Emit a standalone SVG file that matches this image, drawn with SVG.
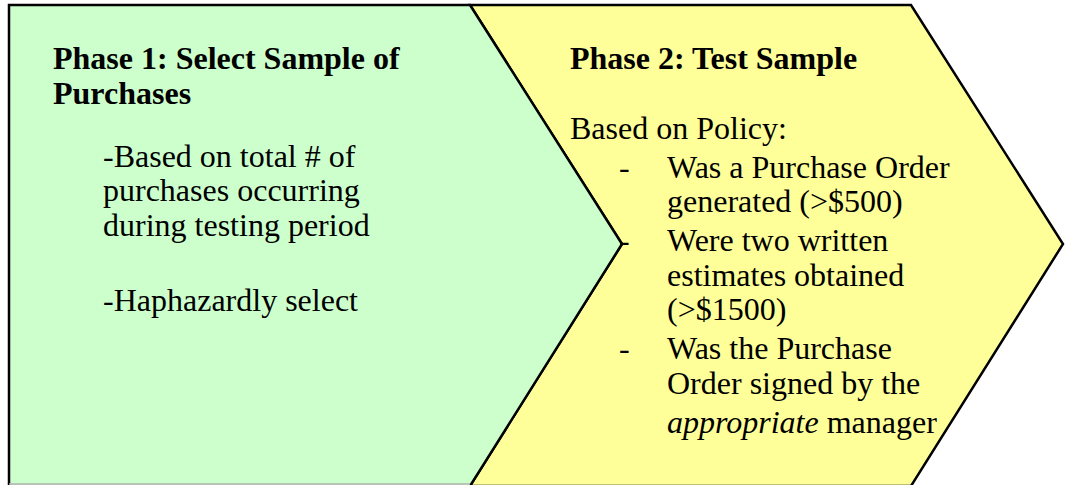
<svg xmlns="http://www.w3.org/2000/svg" width="1065" height="485" viewBox="0 0 1065 485">
  <style>
    .shape { stroke: #000; stroke-width: 2.5; stroke-linejoin: miter; }
    .title { font-family: "Liberation Serif", "Times New Roman", serif; font-size: 32px; font-weight: bold; fill: #000; }
    .body { font-family: "Liberation Serif", "Times New Roman", serif; font-size: 32px; fill: #000; }
  </style>
  <rect width="1065" height="485" fill="#fff"/>

  <!-- Phase 2 chevron (drawn first so phase 1 notch line sits on top) -->
  <g id="phase2">
    <polygon class="shape" fill="#ffff99" points="470,5 911,5 1063,244 911,486 470,486 622,244"/>
  </g>

  <!-- Phase 1 pentagon -->
  <g id="phase1">
    <polygon fill="#ccffcc" points="9,5 470,5 622,244 470,486 9,486"/>
    <polyline class="shape" fill="none" points="9,486 9,5 470,5 622,244 470,486"/>
    <line x1="9" y1="484" x2="470" y2="484" stroke="#b0b0b0" stroke-width="1.5"/>
  </g>

  <g id="phase1-text">
    <text class="title" x="53" y="69">Phase 1: Select Sample of</text>
    <text class="title" x="53" y="104">Purchases</text>
    <text class="body" x="103" y="167">-Based on total # of</text>
    <text class="body" x="103" y="201">purchases occurring</text>
    <text class="body" x="103" y="236">during testing period</text>
    <text class="body" x="103" y="311">-Haphazardly select</text>
  </g>

  <g id="phase2-text">
    <text class="title" x="570" y="69">Phase 2: Test Sample</text>
    <text class="body" x="570" y="139">Based on Policy:</text>
    <text class="body" x="619" y="178">-</text>
    <text class="body" x="667" y="178">Was a Purchase Order</text>
    <text class="body" x="667" y="212">generated (&gt;$500)</text>
    <text class="body" x="619" y="251">-</text>
    <text class="body" x="667" y="251">Were two written</text>
    <text class="body" x="667" y="286">estimates obtained</text>
    <text class="body" x="667" y="320">(&gt;$1500)</text>
    <text class="body" x="619" y="359">-</text>
    <text class="body" x="667" y="359">Was the Purchase</text>
    <text class="body" x="667" y="394">Order signed by the</text>
    <text class="body" x="667" y="433"><tspan font-style="italic">appropriate</tspan> manager</text>
  </g>
</svg>
